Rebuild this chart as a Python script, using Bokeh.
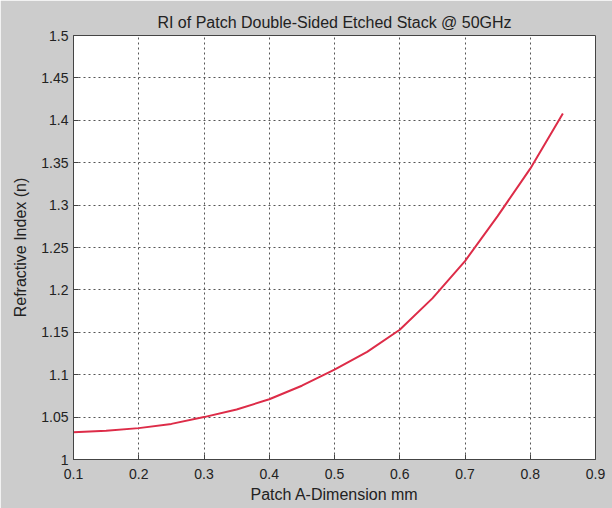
from bokeh.plotting import figure
from bokeh.models import Range1d, FixedTicker
from bokeh.embed import file_html
from bokeh.resources import INLINE

# Data
patch_a_mm = [0.10, 0.15, 0.20, 0.25, 0.30, 0.35, 0.40, 0.45, 0.50,
              0.55, 0.60, 0.65, 0.70, 0.75, 0.80, 0.85]
refractive_index = [1.032, 1.034, 1.037, 1.042, 1.050, 1.059, 1.071, 1.087, 1.106,
                    1.127, 1.153, 1.190, 1.234, 1.287, 1.343, 1.408]

x_ticks = [0.1, 0.2, 0.3, 0.4, 0.5, 0.6, 0.7, 0.8, 0.9]
x_tick_labels = ["0.1", "0.2", "0.3", "0.4", "0.5", "0.6", "0.7", "0.8", "0.9"]
y_ticks = [1.0, 1.05, 1.1, 1.15, 1.2, 1.25, 1.3, 1.35, 1.4, 1.45, 1.5]
y_tick_labels = ["1", "1.05", "1.1", "1.15", "1.2", "1.25", "1.3", "1.35", "1.4", "1.45", "1.5"]

FONT = "Liberation Sans"
TXT = "#222222"

p = figure(width=612, height=508, output_backend="svg", toolbar_location=None,
           x_range=Range1d(0.1, 0.9), y_range=Range1d(1.0, 1.5),
           title="RI of Patch Double-Sided Etched Stack @ 50GHz",
           x_axis_label="Patch A-Dimension mm", y_axis_label="Refractive Index (n)")

p.min_border_left = 73
p.min_border_right = 17
p.min_border_top = 35
p.min_border_bottom = 49

p.border_fill_color = "#cccccc"
p.background_fill_color = "#ffffff"
p.outline_line_color = "#444444"
p.outline_line_width = 1

p.title.align = "center"
p.title.text_font = FONT
p.title.text_font_size = "16px"
p.title.text_font_style = "normal"
p.title.text_color = TXT
p.title.standoff = 10

for ax in (p.xaxis[0], p.yaxis[0]):
    ax.axis_label_text_font = FONT
    ax.axis_label_text_font_size = "16px"
    ax.axis_label_text_font_style = "normal"
    ax.axis_label_text_color = TXT
    ax.major_label_text_font = FONT
    ax.major_label_text_font_size = "14px"
    ax.major_label_text_color = TXT
    ax.axis_line_color = "#444444"
    ax.major_tick_line_color = "#444444"
    ax.major_tick_in = 5
    ax.major_tick_out = 0
    ax.minor_tick_line_color = None

p.xaxis[0].ticker = FixedTicker(ticks=x_ticks)
p.xaxis[0].major_label_overrides = {t: s for t, s in zip(x_ticks, x_tick_labels)}
p.yaxis[0].ticker = FixedTicker(ticks=y_ticks)
p.yaxis[0].major_label_overrides = {t: s for t, s in zip(y_ticks, y_tick_labels)}

p.xaxis[0].major_label_standoff = 9
p.xaxis[0].axis_label_standoff = 4
p.yaxis[0].major_label_standoff = 5
p.yaxis[0].axis_label_standoff = 9

for g in (p.xgrid[0], p.ygrid[0]):
    g.grid_line_color = "#555555"
    g.grid_line_dash = "2 3"
    g.grid_line_width = 1

p.line(patch_a_mm, refractive_index, line_color="#dd2c48", line_width=2)

open("out.html", "w").write(file_html(p, INLINE))
